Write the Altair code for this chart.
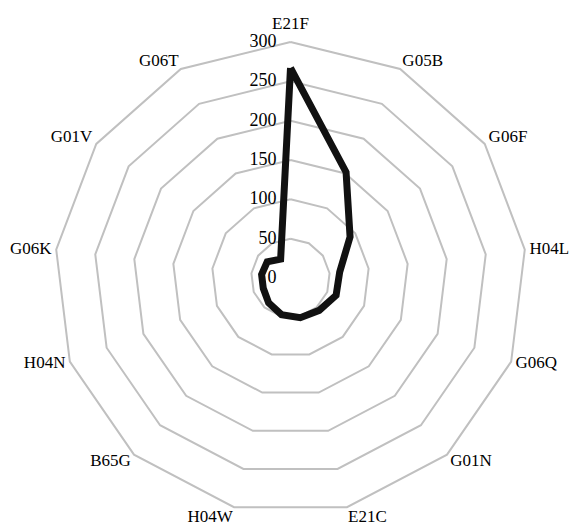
import math
import altair as alt
import pandas as pd

categories = ["E21F", "G05B", "G06F", "H04L", "G06Q", "G01N", "E21C",
              "H04W", "B65G", "H04N", "G06K", "G01V", "G06T"]
values = [267, 152, 92, 63, 62, 55, 52, 48, 42, 37, 37, 36, 27]
ticks = [0, 50, 100, 150, 200, 250, 300]
rmax = 300
n = len(categories)

def ang(i):
    return 2 * math.pi * i / n

# grid rings
grid_rows = []
for lv in ticks[1:]:
    for k in range(n + 1):
        i = k % n
        grid_rows.append({"level": lv, "order": k,
                          "x": lv * math.sin(ang(i)), "y": lv * math.cos(ang(i))})
grid_df = pd.DataFrame(grid_rows)

# data line (closed)
line_rows = []
for k in range(n + 1):
    i = k % n
    v = values[i]
    line_rows.append({"cat": categories[i], "order": k, "value": v,
                      "x": v * math.sin(ang(i)), "y": v * math.cos(ang(i))})
line_df = pd.DataFrame(line_rows)

# category labels, grouped by placement around the polygon
lab_rows = []
for i, c in enumerate(categories):
    s, co = math.sin(ang(i)), math.cos(ang(i))
    side = "left" if s > 0.05 else ("right" if s < -0.05 else "center")
    if side == "center":
        grp = "top"
    elif co < -0.9:
        grp = "bottom"
    elif co > 0.3:
        grp = "upper"
    elif co < -0.5:
        grp = "lower"
    else:
        grp = "mid"
    r = rmax + 6
    lab_rows.append({"cat": c, "side": side, "grp": grp,
                     "x": r * s, "y": r * co})
lab_df = pd.DataFrame(lab_rows)

tick_df = pd.DataFrame({"level": ticks, "x": [0] * len(ticks), "y": ticks,
                        "label": [str(t) for t in ticks]})

xs = alt.Scale(domain=[-rmax, rmax], nice=False, zero=False)
ys = alt.Scale(domain=[-rmax, rmax], nice=False, zero=False)
X = lambda: alt.X("x:Q", scale=xs, axis=None)
Y = lambda: alt.Y("y:Q", scale=ys, axis=None)

font = "Liberation Serif"
fs = 17

grid = alt.Chart(grid_df).mark_line(color="#c0c0c0", strokeWidth=2).encode(
    x=X(), y=Y(), detail="level:N", order="order:Q")

line = alt.Chart(line_df).mark_line(color="#111111", strokeWidth=7,
                                     strokeJoin="miter").encode(
    x=X(), y=Y(), order="order:Q")

def lab_layer(side, grp, **kw):
    return alt.Chart(lab_df).transform_filter(
        (alt.datum.side == side) & (alt.datum.grp == grp)
    ).mark_text(font=font, fontSize=fs, color="black", align=side, **kw).encode(
        x=X(), y=Y(), text="cat:N")

label_layers = [
    lab_layer("center", "top", baseline="bottom", dy=-4),
    lab_layer("left", "upper", baseline="middle", dy=-4),
    lab_layer("right", "upper", baseline="middle", dy=-4),
    lab_layer("left", "mid", baseline="middle", dy=0),
    lab_layer("right", "mid", baseline="middle", dy=0),
    lab_layer("left", "lower", baseline="middle", dy=3),
    lab_layer("right", "lower", baseline="middle", dy=3),
    lab_layer("left", "bottom", baseline="middle", dy=5),
    lab_layer("right", "bottom", baseline="middle", dy=5),
]

tick_text = alt.Chart(tick_df).mark_text(
    font=font, fontSize=18, color="black", align="right", baseline="middle", dx=-14
).encode(x=X(), y=Y(), text="label:N")

chart = alt.layer(grid, line, tick_text, *label_layers).properties(
    width=472, height=472,
    autosize="none",
    padding={"left": 46.5, "top": 34, "right": 42, "bottom": 12},
).configure_view(stroke=None)

chart.save("out.html", embed_options={"renderer": "svg", "actions": False})
